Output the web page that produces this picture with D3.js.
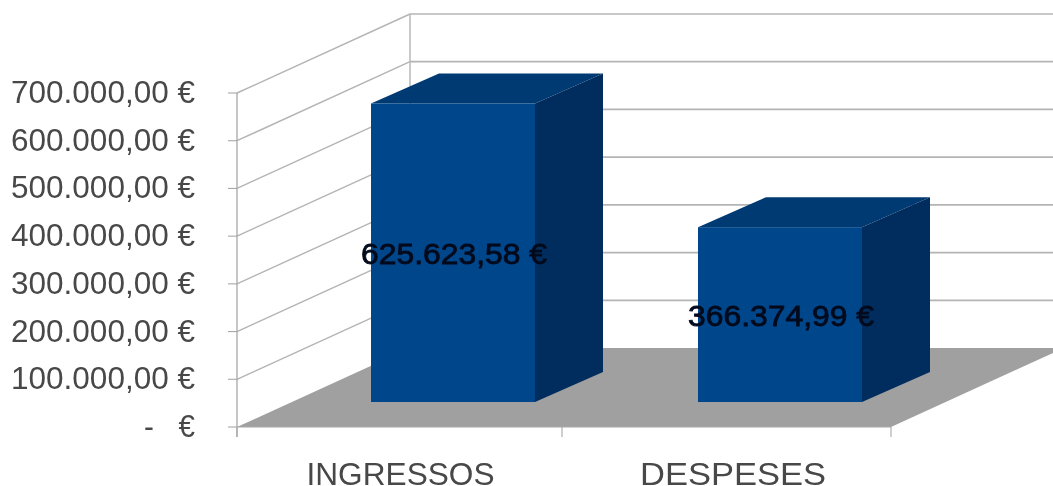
<!DOCTYPE html>
<html><head><meta charset="utf-8">
<script src="https://cdn.jsdelivr.net/npm/d3@7"></script>
<style>html,body{margin:0;padding:0;background:#fff;overflow:hidden}svg{display:block;filter:blur(0.45px)}text{font-family:"Liberation Sans",Arial,sans-serif;white-space:pre}</style>
</head><body><svg id="c" width="1053" height="486"></svg>
<script>
const categories = ["INGRESSOS", "DESPESES"];
const values = [625623.58, 366374.99];
const valueLabels = ["625.623,58 €", "366.374,99 €"];
const ticks = [0, 100000, 200000, 300000, 400000, 500000, 600000, 700000];
const tickLabels = ["-   €", "100.000,00 €", "200.000,00 €", "300.000,00 €", "400.000,00 €", "500.000,00 €", "600.000,00 €", "700.000,00 €"];

const svg = d3.select("#c");
const y = d3.scaleLinear().domain([0, 700000]).range([427, 93]);
const x = d3.scaleBand().domain(categories).range([237, 891]);
const wall = {dx: 173, dy: -79};
const barOff = {dx: 52.5, dy: -25};
const depth = {dx: 68, dy: -30};
const barW = 164;
const grid = "#b4b4b4";
const line = (x1,y1,x2,y2,c=grid,w=1.4) => svg.append("line").attr("x1",x1).attr("y1",y1).attr("x2",x2).attr("y2",y2).attr("stroke",c).attr("stroke-width",w);
const poly = (pts,f) => svg.append("polygon").attr("points",pts.map(p=>p.join(",")).join(" ")).attr("fill",f);

// floor
const y0 = y(0), xL = x.range()[0], xR = x.range()[1];
poly([[xL,y0],[xR,y0],[xR+wall.dx,y0+wall.dy],[xL+wall.dx,y0+wall.dy]], "#a0a0a0");

// walls and gridlines
ticks.forEach(t => {
  if (t > 0) {
    line(xL, y(t), xL+wall.dx, y(t)+wall.dy);
    line(xL+wall.dx, y(t)+wall.dy, 1053, y(t)+wall.dy, grid, 1.7);
  }
  line(xL-9, y(t), xL, y(t), "#a8a8a8", 1.1);
});
line(xL, y(700000), xL, y0+10, "#a8a8a8", 1.3);
line(xL+wall.dx, y(700000)+wall.dy, xL+wall.dx, y0+wall.dy, "#b8b8b8", 1.5);
line(xL, y0, xR, y0, "#a8a8a8", 1);
[xL, xL+x.step()-2, xR].forEach(v => line(v, y0, v, y0+10, "#a8a8a8", 1.1));

// bars
categories.forEach((c,i) => {
  const cx = x(c) + x.bandwidth()/2 + barOff.dx;
  const l = cx - barW/2, r = cx + barW/2;
  const b = y0 + barOff.dy, t = y(values[i]) + barOff.dy;
  poly([[l,t],[r,t],[r+depth.dx,t+depth.dy],[l+depth.dx,t+depth.dy]], "#003a73");
  poly([[r,t],[r+depth.dx,t+depth.dy],[r+depth.dx,b+depth.dy],[r,b]], "#002d5e");
  svg.append("rect").attr("x",l).attr("y",t).attr("width",barW).attr("height",b-t).attr("fill","#00468a");
  svg.append("text").attr("x",cx+1).attr("y",(t+b)/2+11).attr("text-anchor","middle")
    .attr("font-size",30).attr("fill","#020a1c").attr("stroke","#020a1c").attr("stroke-width",0.8)
    .attr("textLength",186).attr("lengthAdjust","spacingAndGlyphs").text(valueLabels[i]);
});

// y labels
ticks.forEach((t,i) => {
  svg.append("text").attr("x",195).attr("y",y(t)+10).attr("text-anchor","end")
    .attr("font-size",31).attr("fill","#484848")
    .attr("textLength",i===0 ? 51 : 184).attr("lengthAdjust","spacingAndGlyphs").text(tickLabels[i]);
});
// x labels
const xLabelShift = [0, 5.5];
categories.forEach((c,i) => {
  svg.append("text").attr("x",x(c)+x.bandwidth()/2+xLabelShift[i]).attr("y",485).attr("text-anchor","middle")
    .attr("font-size",31).attr("fill","#484848")
    .attr("textLength",i===0 ? 188 : 186).attr("lengthAdjust","spacingAndGlyphs").text(c);
});
</script></body></html>
